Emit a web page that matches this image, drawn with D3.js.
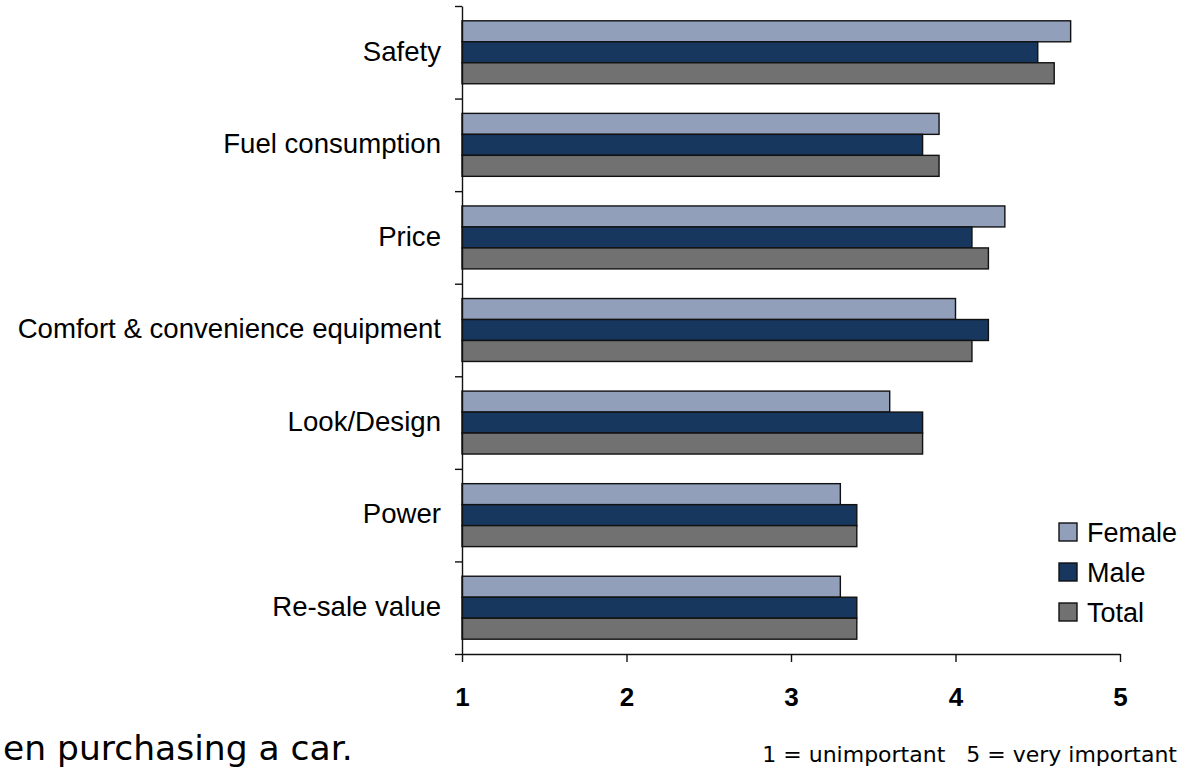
<!DOCTYPE html>
<html>
<head>
<meta charset="utf-8">
<script src="https://cdn.jsdelivr.net/npm/d3@7"></script>
<style>
  body { margin: 0; background: #fff; }
  svg { display: block; }
</style>
</head>
<body>
<svg id="chart" width="1190" height="769"></svg>
<script>
const categories = ['Safety', 'Fuel consumption', 'Price', 'Comfort & convenience equipment',
    'Look/Design', 'Power', 'Re-sale value']
const seriesNames = ['Female', 'Male', 'Total']
const female = [4.7, 3.9, 4.3, 4.0, 3.6, 3.3, 3.3]
const male = [4.5, 3.8, 4.1, 4.2, 3.8, 3.4, 3.4]
const total = [4.6, 3.9, 4.2, 4.1, 3.8, 3.4, 3.4]
const xTicks = [1, 2, 3, 4, 5]
const colors = ['#919fbb', '#17375e', '#717171']

const plotLeft = 462,
    plotRight = 1120,
    plotTop = 6,
    plotBottom = 654

const rows = categories.map((c, i) => ({
    cat: c,
    vals: [female[i], male[i], total[i]]
}))

const svg = d3.select('#chart')

const x = d3.scaleLinear()
    .domain([1, 5])
    .range([plotLeft, plotRight])

const y0 = d3.scaleBand()
    .domain(categories)
    .range([plotTop, plotBottom])
    .paddingInner(0.32)
    .paddingOuter(0.16)

const y1 = d3.scaleBand()
    .domain(seriesNames)
    .range([0, y0.bandwidth()])

// bars
const groups = svg.append('g')
    .selectAll('g')
    .data(rows)
    .enter()
    .append('g')
    .attr('transform', d => `translate(0,${y0(d.cat)})`)

groups.selectAll('rect')
    .data(d => d.vals.map((v, j) => ({ name: seriesNames[j], v: v, j: j })))
    .enter()
    .append('rect')
    .attr('x', x(1))
    .attr('y', d => y1(d.name))
    .attr('width', d => x(d.v) - x(1))
    .attr('height', y1.bandwidth())
    .attr('fill', d => colors[d.j])
    .attr('stroke', '#111')
    .attr('stroke-width', 1.4)

// y axis with ticks at the band edges
const yEdge = d3.scaleLinear()
    .domain([0, categories.length])
    .range([plotTop, plotBottom])

svg.append('g')
    .attr('transform', `translate(${plotLeft},0)`)
    .call(d3.axisLeft(yEdge)
        .tickValues(d3.range(categories.length + 1))
        .tickSize(7)
        .tickSizeOuter(0)
        .tickFormat(''))
    .call(g => g.selectAll('path, line').attr('stroke', '#111').attr('stroke-width', 1.4))

// category labels
svg.append('g')
    .attr('transform', `translate(${plotLeft},0)`)
    .call(d3.axisLeft(y0).tickSize(0).tickPadding(21))
    .call(g => g.select('.domain').remove())
    .call(g => g.selectAll('text')
        .attr('font-family', '"Liberation Sans", Arial, sans-serif')
        .attr('font-size', 27.6)
        .attr('fill', '#000')
        .attr('dy', '0.3em'))

// x axis
svg.append('g')
    .attr('transform', `translate(0,${plotBottom})`)
    .call(d3.axisBottom(x)
        .tickValues(xTicks)
        .tickSize(8)
        .tickSizeOuter(0)
        .tickPadding(26)
        .tickFormat(d3.format('d')))
    .call(g => g.selectAll('path, line').attr('stroke', '#111').attr('stroke-width', 1.4))
    .call(g => g.selectAll('text')
        .attr('font-family', '"Liberation Sans", Arial, sans-serif')
        .attr('font-size', 26)
        .attr('font-weight', 'bold')
        .attr('fill', '#000'))

// legend
const legend = svg.append('g')
    .attr('transform', 'translate(1059,523)')

const item = legend.selectAll('g')
    .data(seriesNames)
    .enter()
    .append('g')
    .attr('transform', (d, i) => `translate(0,${i * 40})`)

item.append('rect')
    .attr('width', 18)
    .attr('height', 18)
    .attr('fill', (d, i) => colors[i])
    .attr('stroke', '#111')
    .attr('stroke-width', 1.4)

item.append('text')
    .attr('x', 28)
    .attr('y', 19)
    .attr('font-family', '"Liberation Sans", Arial, sans-serif')
    .attr('font-size', 27)
    .attr('fill', '#000')
    .text(d => d)

// slide texts along the bottom
svg.append('text')
    .attr('x', 3)
    .attr('y', 760)
    .attr('font-family', '"DejaVu Sans", sans-serif')
    .attr('font-size', 34.5)
    .attr('fill', '#000')
    .text('en purchasing a car.')

svg.append('text')
    .attr('x', 1177)
    .attr('y', 762)
    .attr('text-anchor', 'end')
    .attr('font-family', '"DejaVu Sans", sans-serif')
    .attr('font-size', 22)
    .attr('fill', '#000')
    .style('white-space', 'pre')
    .text('1 = unimportant   5 = very important')
</script>
</body>
</html>
